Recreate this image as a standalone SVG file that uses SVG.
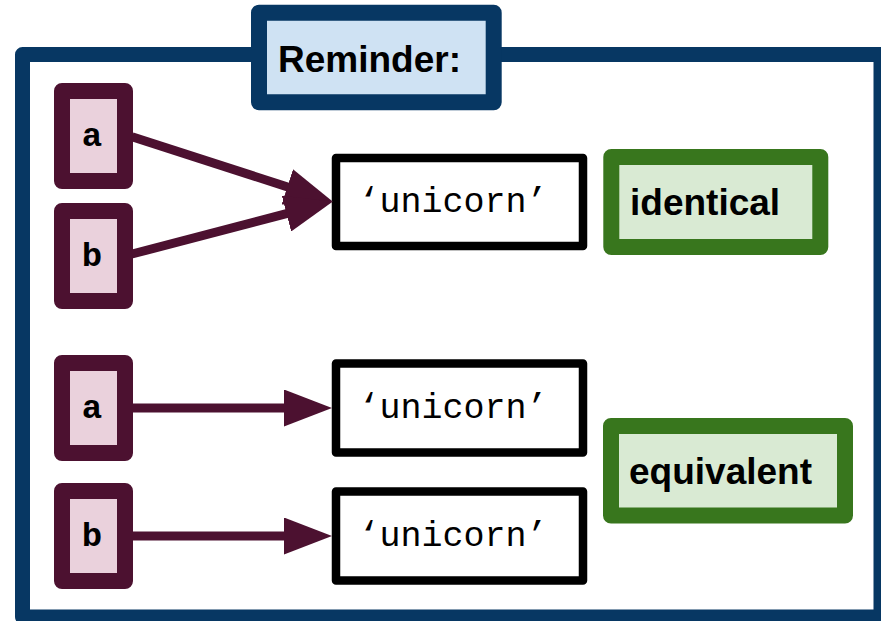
<svg xmlns="http://www.w3.org/2000/svg" width="881" height="621" viewBox="0 0 881 621">
<style>
.frame{fill:#ffffff;stroke:#073763;stroke-width:15;stroke-linejoin:round}
.title{fill:#cfe2f3;stroke:#073763;stroke-width:16;stroke-linejoin:round}
.var{fill:#ead1dc;stroke:#4c1130;stroke-width:16;stroke-linejoin:round}
.obj{fill:#ffffff;stroke:#000000;stroke-width:8.5;stroke-linejoin:round}
.note{fill:#d9ead3;stroke:#38761d;stroke-width:16;stroke-linejoin:round}
.sans{font-family:"Liberation Sans",Arial,sans-serif;font-weight:bold;font-size:37px;fill:#000}
.varl{font-family:"Liberation Mono","Courier New",monospace;font-weight:bold;font-size:34px;fill:#000;text-anchor:middle}
.str{font-family:"Liberation Mono","Courier New",monospace;font-size:35px;fill:#000;text-anchor:middle}
.conn line{stroke:#4c1130;stroke-width:9;fill:none}
</style>
<defs>
<marker id="arrow" markerUnits="userSpaceOnUse" markerWidth="48" markerHeight="37" refX="2" refY="18.5" orient="auto" viewBox="0 0 48 37">
<path d="M0,0 L48,18.5 L0,37 z" fill="#4c1130"/>
</marker>
</defs>
<g id="frame">
<rect class="frame" x="22.5" y="54.5" width="858.5" height="562.5"/>
</g>
<g id="reminder">
<rect class="title" x="259" y="12.7" width="234.7" height="89.6"/>
<text class="sans" x="278" y="72">Reminder:</text>
</g>
<g id="var-a1">
<rect class="var" x="62" y="91" width="63" height="90"/>
<text class="varl" x="92" y="146">a</text>
</g>
<g id="var-b1">
<rect class="var" x="62" y="211" width="63" height="90"/>
<text class="varl" x="92" y="266">b</text>
</g>
<g id="var-a2">
<rect class="var" x="62" y="363" width="63" height="90"/>
<text class="varl" x="92" y="418">a</text>
</g>
<g id="var-b2">
<rect class="var" x="62" y="491" width="63" height="90"/>
<text class="varl" x="92" y="546">b</text>
</g>
<g id="str1">
<rect class="obj" x="336" y="158" width="247" height="88"/>
<text class="str" x="453" y="212">‘unicorn’</text>
</g>
<g id="str2">
<rect class="obj" x="336" y="363.5" width="247" height="89"/>
<text class="str" x="453" y="418">‘unicorn’</text>
</g>
<g id="str3">
<rect class="obj" x="336" y="491.5" width="247" height="89"/>
<text class="str" x="453" y="546">‘unicorn’</text>
</g>
<g id="identical">
<rect class="note" x="611.3" y="157" width="209" height="90"/>
<text class="sans" x="630" y="215">identical</text>
</g>
<g id="equivalent">
<rect class="note" x="611" y="426" width="234" height="89.5"/>
<text class="sans" x="629" y="484">equivalent</text>
</g>
<g id="connectors" class="conn">
<line x1="132" y1="136.7" x2="289.2" y2="187.5" marker-end="url(#arrow)"/>
<line x1="132" y1="254" x2="288.4" y2="213.1" marker-end="url(#arrow)"/>
<line x1="133" y1="408" x2="286" y2="408" marker-end="url(#arrow)"/>
<line x1="133" y1="536" x2="286" y2="536" marker-end="url(#arrow)"/>
</g>
</svg>
